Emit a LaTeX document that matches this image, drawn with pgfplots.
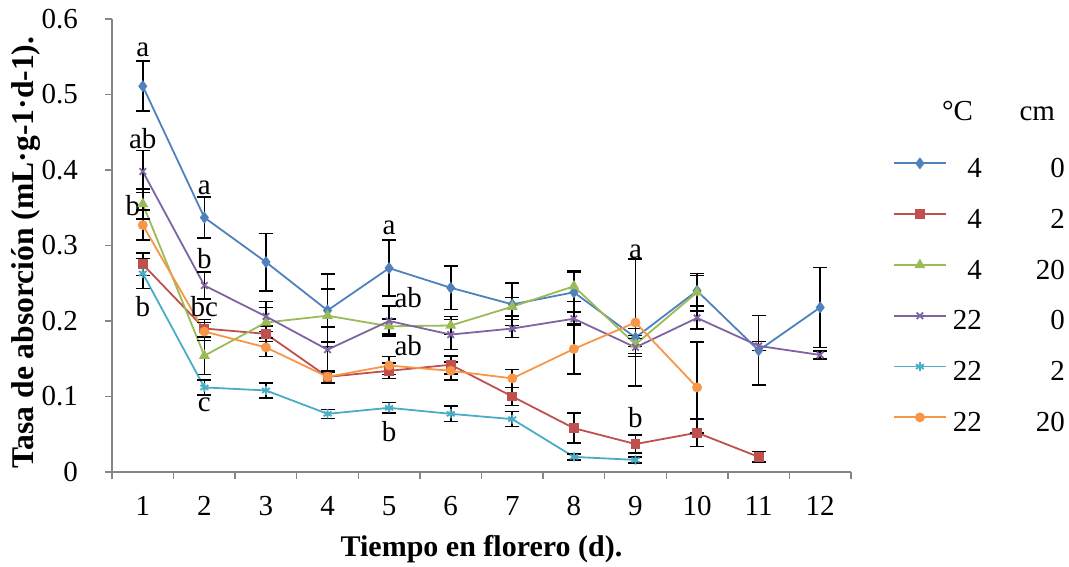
\documentclass[border=0pt]{standalone}
\usepackage{fontspec}
\setmainfont{Liberation Serif}
\usepackage{pgfplots}
\usepackage{pgfplotstable}
\pgfplotsset{compat=1.18}
\definecolor{sBlue}{HTML}{4F81BD}
\definecolor{sRed}{HTML}{C0504D}
\definecolor{sGreen}{HTML}{9BBB59}
\definecolor{sPurple}{HTML}{8064A2}
\definecolor{sCyan}{HTML}{4BACC6}
\definecolor{sOrange}{HTML}{F79646}
\definecolor{axgray}{HTML}{868686}

\pgfplotstableread{
x y e
1 0.511 0.033
2 0.337 0.027
3 0.278 0.038
4 0.214 0.048
5 0.270 0.037
6 0.244 0.029
7 0.222 0.028
8 0.238 0.026
9 0.178 0.012
10 0.240 0.020
11 0.161 0.046
12 0.218 0.053
}\tblA
\pgfplotstableread{
x y e
1 0.275 0.015
2 0.190 0.012
3 0.183 0.010
4 0.126 0.008
5 0.134 0.010
6 0.142 0.012
7 0.100 0.012
8 0.058 0.020
9 0.037 0.012
10 0.052 0.018
11 0.020 0.007
}\tblB
\pgfplotstableread{
x y e
1 0.355 0.020
2 0.154 0.025
3 0.198 0.020
4 0.207 0.035
5 0.193 0.010
6 0.194 0.012
7 0.219 0.012
8 0.246 0.020
9 0.169 0.012
10 0.238 0.025
}\tblC
\pgfplotstableread{
x y e
1 0.398 0.028
2 0.247 0.018
3 0.206 0.020
4 0.162 0.030
5 0.200 0.020
6 0.182 0.020
7 0.190 0.012
8 0.203 0.008
9 0.165 0.012
10 0.204 0.015
11 0.167 0.006
12 0.155 0.005
}\tblD
\pgfplotstableread{
x y e
1 0.263 0.020
2 0.112 0.010
3 0.108 0.010
4 0.077 0.006
5 0.085 0.007
6 0.077 0.010
7 0.070 0.010
8 0.020 0.004
9 0.016 0.004
}\tblE
\pgfplotstableread{
x y e
1 0.327 0.020
2 0.186 0.012
3 0.165 0.012
4 0.126 0.008
5 0.141 0.012
6 0.134 0.012
7 0.124 0.012
8 0.163 0.033
9 0.198 0.084
10 0.112 0.060
}\tblF

\newcommand{\tfont}{\fontsize{14.5}{16}\selectfont}
\newcommand{\lfont}{\fontsize{15}{17}\selectfont\bfseries}
\newcommand{\ylfont}{\fontsize{15.8}{18}\selectfont\bfseries}
\newcommand{\LE}[2]{\makebox[17.5pt][r]{#1}\makebox[41.5pt][r]{#2}}

\begin{document}
\begin{tikzpicture}
\begin{axis}[
  name=ax,
  scale only axis, width=369.5pt, height=226.5pt,
  xmin=0.5, xmax=12.5, ymin=0, ymax=0.6,
  axis lines*=left,
  axis line style={draw=axgray, line width=0.7pt, -},
  tick align=outside,
  xtick={1,2,3,4,5,6,7,8,9,10,11,12},
  minor xtick={0.5,1.5,2.5,3.5,4.5,5.5,6.5,7.5,8.5,9.5,10.5,11.5,12.5},
  major x tick style={draw=none},
  minor tick style={draw=axgray, line width=0.7pt},
  minor tick length=3.5pt,
  major tick length=3.5pt,
  ytick={0,0.1,0.2,0.3,0.4,0.5,0.6},
  y tick style={draw=axgray, line width=0.7pt},
  /pgf/number format/assume math mode=true,
  yticklabel style={font=\tfont, /pgf/number format/fixed, /pgf/number format/precision=1, xshift=-10pt},
  xticklabel style={font=\tfont, yshift=-5pt},
  xlabel={Tiempo en florero (d).},
  ylabel={Tasa de absorción (mL·g-1·d-1).},
  xlabel style={font=\lfont, at={(axis description cs:0.5,0)}, anchor=base, yshift=-42.5pt},
  ylabel style={font=\ylfont, at={(axis description cs:-0.1164,0.4845)}, anchor=center},
  legend style={draw=none, fill=none, at={(1,1)}, anchor=north west, xshift=21pt, yshift=-61.8pt,
    row sep=0pt, inner sep=0pt, outer sep=0pt, font=\tfont,
    nodes={inner sep=0pt, text height=17.5pt, text depth=7.9pt},
    /tikz/column sep=0pt},
  legend cell align=left,
  legend image code/.code={\draw[mark repeat=2, mark phase=2, #1] plot coordinates {(0pt,2.3pt) (13pt,2.3pt) (26pt,2.3pt)};},
  every axis plot/.append style={line width=0.9pt, mark size=2.3pt,
    error bars/y dir=both, error bars/y explicit,
    error bars/error bar style={black, line width=0.8pt, solid},
    error bars/error mark options={rotate=90, black, mark size=3.5pt, line width=0.8pt, solid}},
]
\addplot[color=sBlue, mark=diamond*, mark options={solid, fill=sBlue}] table[x=x, y=y, y error=e]{\tblA};
\addlegendentry{\LE{4}{0}}
\addplot[color=sRed, mark=square*, mark size=2pt, mark options={solid, fill=sRed}] table[x=x, y=y, y error=e]{\tblB};
\addlegendentry{\LE{4}{2}}
\addplot[color=sGreen, mark=triangle*, mark options={solid, fill=sGreen}] table[x=x, y=y, y error=e]{\tblC};
\addlegendentry{\LE{4}{20}}
\addplot[color=sPurple, mark=x, mark options={solid}] table[x=x, y=y, y error=e]{\tblD};
\addlegendentry{\LE{22}{0}}
\addplot[color=sCyan, mark=asterisk, mark options={solid}] table[x=x, y=y, y error=e]{\tblE};
\addlegendentry{\LE{22}{2}}
\addplot[color=sOrange, mark=*, mark size=2pt, mark options={solid, fill=sOrange}] table[x=x, y=y, y error=e]{\tblF};
\addlegendentry{\LE{22}{20}}

\node[font=\tfont] at (axis cs:1,0.559) {a};
\node[font=\tfont] at (axis cs:1,0.441) {ab};
\node[font=\tfont] at (axis cs:0.84,0.353) {b};
\node[font=\tfont] at (axis cs:1,0.219) {b};
\node[font=\tfont] at (axis cs:2,0.376) {a};
\node[font=\tfont] at (axis cs:2,0.283) {b};
\node[font=\tfont] at (axis cs:2,0.219) {bc};
\node[font=\tfont] at (axis cs:2,0.089) {c};
\node[font=\tfont] at (axis cs:5,0.323) {a};
\node[font=\tfont] at (axis cs:5.31,0.231) {ab};
\node[font=\tfont] at (axis cs:5.31,0.167) {ab};
\node[font=\tfont] at (axis cs:5,0.054) {b};
\node[font=\tfont] at (axis cs:9,0.292) {a};
\node[font=\tfont] at (axis cs:9,0.072) {b};
\end{axis}
\node[font=\tfont, anchor=base east] at ([xshift=64.5pt, yshift=-51pt]ax.north east) {°C};
\node[font=\tfont, anchor=base east] at ([xshift=105.5pt, yshift=-51pt]ax.north east) {cm};
\pgfresetboundingbox
\path ([xshift=-56pt, yshift=-47.5pt]ax.south west) rectangle ([xshift=109pt, yshift=9.5pt]ax.north east);
\end{tikzpicture}
\end{document}
